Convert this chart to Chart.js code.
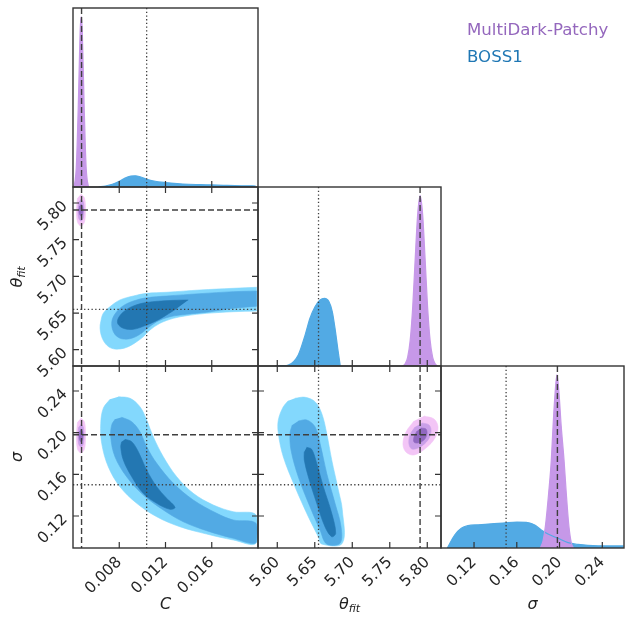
<!DOCTYPE html>
<html>
<head>
<meta charset="utf-8">
<title>Corner plot</title>
<script src="https://cdn.jsdelivr.net/npm/chart.js@4.4.1/dist/chart.umd.min.js"></script>
<style>
  body { margin: 0; background: #fff; }
  #fig { position: relative; width: 625px; height: 620px; overflow: hidden; }
  #fig canvas { position: absolute; left: 0; top: 0; }
  .ttl { position: absolute; width: 100px; height: 22px; line-height: 22px; text-align: center;
         font-family: "DejaVu Sans", sans-serif; font-style: italic; font-size: 16px; color: #222; }
  .ttl sub { font-size: 11px; vertical-align: -3px; }
  .rot { transform: rotate(-90deg); }
  #legend { position: absolute; left: 467px; top: 17px; font-family: "DejaVu Sans", sans-serif;
            font-size: 16.6px; line-height: 26.7px; }
</style>
</head>
<body>
<div id="fig">
  <canvas id="p00" width="625" height="620"></canvas>
  <canvas id="p10" width="625" height="620"></canvas>
  <canvas id="p11" width="625" height="620"></canvas>
  <canvas id="p20" width="625" height="620"></canvas>
  <canvas id="p21" width="625" height="620"></canvas>
  <canvas id="p22" width="625" height="620"></canvas>

  <div class="ttl" style="left:115.5px; top:593px;">C</div>
  <div class="ttl" style="left:299.5px; top:593px;">θ<sub>fit</sub></div>
  <div class="ttl" style="left:482.5px; top:593px;">σ</div>
  <div class="ttl rot" style="left:-33px; top:265.5px;">θ<sub>fit</sub></div>
  <div class="ttl rot" style="left:-33px; top:446px;">σ</div>

  <div id="legend">
    <div style="color:#9467bd">MultiDark-Patchy</div>
    <div style="color:#1f77b4">BOSS1</div>
  </div>
</div>

<script>
// ---------- data ----------

// parameters: 0 = C, 1 = theta_fit, 2 = sigma
const cTicks = [0.008, 0.012, 0.016];
const cTickLabels = ['0.008', '0.012', '0.016'];
const thetaTicks = [5.60, 5.65, 5.70, 5.75, 5.80];
const thetaTickLabels = ['5.60', '5.65', '5.70', '5.75', '5.80'];
const sigmaTicks = [0.12, 0.16, 0.20, 0.24];
const sigmaTickLabels = ['0.12', '0.16', '0.20', '0.24'];

// reference values (dashed = Patchy, dotted = BOSS1)
const truthPatchy = [0.00474, 5.7904, 0.198];
const truthBoss = [0.01037, 5.655, 0.150];

// 1D marginals
const cGridBoss = [0.0062, 0.0068, 0.0074, 0.0080, 0.0085, 0.0090, 0.0094, 0.0098, 0.0104, 0.0110, 0.0120, 0.0130, 0.0140, 0.0150, 0.0160, 0.0170, 0.0180, 0.0190, 0.0198];
const cDensBoss = [0, 0.006, 0.016, 0.033, 0.052, 0.064, 0.066, 0.060, 0.045, 0.035, 0.026, 0.020, 0.016, 0.014, 0.012, 0.010, 0.008, 0.007, 0.006];
const cGridPatchy = [0.00405, 0.00419, 0.00428, 0.00436, 0.00445, 0.00454, 0.00462, 0.00471, 0.00480, 0.00488, 0.00497, 0.00506, 0.00514, 0.00523, 0.00535];
const cDensPatchy = [0, 0.04, 0.11, 0.25, 0.46, 0.71, 0.92, 1.0, 0.92, 0.71, 0.46, 0.25, 0.11, 0.04, 0];

const thetaGridBoss = [5.5970, 5.6070, 5.6147, 5.6280, 5.6370, 5.6436, 5.6503, 5.6570, 5.6627, 5.6690, 5.6734, 5.6770, 5.6806, 5.6840];
const thetaDensBoss = [0, 0.002, 0.006, 0.065, 0.18, 0.28, 0.348, 0.387, 0.397, 0.377, 0.318, 0.221, 0.104, 0];
const thetaGridPatchy = [5.7670, 5.7705, 5.7738, 5.7772, 5.7805, 5.7838, 5.7872, 5.7905, 5.7938, 5.7972, 5.8005, 5.8038, 5.8072, 5.8105, 5.8140];
const thetaDensPatchy = [0, 0.013, 0.05, 0.15, 0.34, 0.62, 0.89, 1.0, 0.89, 0.62, 0.34, 0.15, 0.05, 0.013, 0];

const sigmaGridBoss = [0.0950, 0.1019, 0.1081, 0.1144, 0.1240, 0.1331, 0.1470, 0.1602, 0.1689, 0.1768, 0.1829, 0.1892, 0.1985, 0.2079, 0.2173, 0.2360, 0.2600];
const sigmaDensBoss = [0, 0.075, 0.114, 0.129, 0.134, 0.138, 0.144, 0.150, 0.148, 0.133, 0.104, 0.081, 0.056, 0.031, 0.021, 0.013, 0.012];
const sigmaGridPatchy = [0.1820, 0.1845, 0.1867, 0.1898, 0.1923, 0.1939, 0.1958, 0.1976, 0.1995, 0.2016, 0.2042, 0.2063, 0.2088, 0.2110, 0.2130];
const sigmaDensPatchy = [0, 0.04, 0.123, 0.316, 0.508, 0.70, 0.893, 1.0, 0.893, 0.70, 0.508, 0.316, 0.123, 0.03, 0];

// 2D contours, outer / mid / inner levels, [x, y] pairs
const bossCThetaOuter = [[0.01989,5.6851],[0.01786,5.6837],[0.01498,5.6814],[0.01210,5.6783],[0.01037,5.6769],[0.00922,5.6732],[0.00806,5.6678],[0.00720,5.6586],[0.00662,5.6496],[0.00640,5.6382],[0.00634,5.6292],[0.00648,5.6177],[0.00685,5.6074],[0.00735,5.6019],[0.00806,5.6010],[0.00878,5.6041],[0.00951,5.6109],[0.01008,5.6177],[0.01066,5.6269],[0.01152,5.6360],[0.01268,5.6428],[0.01383,5.6464],[0.01556,5.6496],[0.01786,5.6518],[0.01989,5.6528]];
const bossCThetaMid = [[0.01989,5.6800],[0.01786,5.6791],[0.01498,5.6764],[0.01210,5.6732],[0.01037,5.6709],[0.00922,5.6664],[0.00835,5.6600],[0.00778,5.6518],[0.00743,5.6428],[0.00735,5.6337],[0.00749,5.6246],[0.00783,5.6177],[0.00835,5.6146],[0.00908,5.6156],[0.00979,5.6210],[0.01037,5.6282],[0.01124,5.6382],[0.01239,5.6450],[0.01383,5.6483],[0.01556,5.6510],[0.01786,5.6565],[0.01989,5.6593]];
const bossCThetaInner = [[0.01397,5.6678],[0.01239,5.6671],[0.01037,5.6644],[0.00922,5.6596],[0.00835,5.6514],[0.00789,5.6419],[0.00789,5.6350],[0.00835,5.6292],[0.00922,5.6278],[0.01037,5.6337],[0.01152,5.6419],[0.01297,5.6562]];

const bossCSigmaOuter = [[0.00792,0.2345],[0.00893,0.2330],[0.00979,0.2249],[0.01037,0.2122],[0.01094,0.1961],[0.01181,0.1769],[0.01297,0.1577],[0.01440,0.1418],[0.01613,0.1306],[0.01786,0.1241],[0.01983,0.1210],[0.01983,0.0938],[0.01786,0.0970],[0.01556,0.1027],[0.01325,0.1097],[0.01124,0.1193],[0.00951,0.1322],[0.00806,0.1481],[0.00705,0.1673],[0.00648,0.1898],[0.00640,0.2090],[0.00662,0.2234],[0.00720,0.2320]];
const bossCSigmaMid = [[0.00821,0.2148],[0.00908,0.2105],[0.00979,0.2009],[0.01037,0.1865],[0.01124,0.1706],[0.01268,0.1514],[0.01440,0.1354],[0.01643,0.1226],[0.01786,0.1162],[0.01983,0.1130],[0.01983,0.0944],[0.01786,0.0986],[0.01556,0.1059],[0.01354,0.1145],[0.01181,0.1258],[0.01008,0.1402],[0.00864,0.1577],[0.00763,0.1769],[0.00726,0.1961],[0.00735,0.2074],[0.00763,0.2128]];
const bossCSigmaInner = [[0.00850,0.1936],[0.00908,0.1913],[0.00965,0.1817],[0.01037,0.1642],[0.01124,0.1481],[0.01210,0.1370],[0.01282,0.1284],[0.01239,0.1264],[0.01124,0.1322],[0.01008,0.1418],[0.00908,0.1577],[0.00835,0.1738],[0.00813,0.1865],[0.00821,0.1913]];

const bossThetaSigmaOuter = [[5.6236,0.2330],[5.6370,0.2340],[5.6503,0.2297],[5.6592,0.2186],[5.6659,0.1994],[5.6726,0.1738],[5.6814,0.1450],[5.6867,0.1258],[5.6867,0.0938],[5.6592,0.0931],[5.6547,0.1001],[5.6414,0.1193],[5.6236,0.1481],[5.6080,0.1769],[5.6014,0.1994],[5.6014,0.2122],[5.6080,0.2249],[5.6147,0.2307]];
const bossThetaSigmaMid = [[5.6280,0.2112],[5.6392,0.2122],[5.6503,0.2057],[5.6570,0.1898],[5.6659,0.1610],[5.6770,0.1322],[5.6850,0.1097],[5.6836,0.0938],[5.6659,0.0931],[5.6570,0.1066],[5.6436,0.1289],[5.6280,0.1577],[5.6183,0.1834],[5.6170,0.1994],[5.6200,0.2074]];
const bossThetaSigmaInner = [[5.6392,0.1860],[5.6459,0.1840],[5.6526,0.1706],[5.6614,0.1481],[5.6726,0.1226],[5.6779,0.1034],[5.6726,0.1001],[5.6636,0.1097],[5.6526,0.1322],[5.6414,0.1577],[5.6360,0.1738],[5.6360,0.1817]];

const patchyCThetaOuter = [[0.00469,5.8123],[0.00499,5.8068],[0.00508,5.7904],[0.00499,5.7741],[0.00469,5.7686],[0.00439,5.7741],[0.00430,5.7904],[0.00439,5.8068]];
const patchyCThetaMid = [[0.00469,5.8054],[0.00489,5.8014],[0.00495,5.7904],[0.00489,5.7795],[0.00469,5.7755],[0.00449,5.7795],[0.00443,5.7904],[0.00449,5.8014]];
const patchyCThetaInner = [[0.00469,5.7986],[0.00482,5.7959],[0.00486,5.7904],[0.00482,5.7850],[0.00469,5.7823],[0.00456,5.7850],[0.00452,5.7904],[0.00456,5.7959]];

const patchyCSigmaOuter = [[0.00469,0.2141],[0.00499,0.2102],[0.00508,0.1973],[0.00499,0.1843],[0.00469,0.1805],[0.00439,0.1843],[0.00430,0.1973],[0.00439,0.2102]];
const patchyCSigmaMid = [[0.00469,0.2083],[0.00489,0.2054],[0.00495,0.1973],[0.00489,0.1891],[0.00469,0.1862],[0.00449,0.1891],[0.00443,0.1973],[0.00449,0.2054]];
const patchyCSigmaInner = [[0.00469,0.2035],[0.00482,0.2011],[0.00486,0.1973],[0.00482,0.1934],[0.00469,0.1910],[0.00456,0.1934],[0.00452,0.1973],[0.00456,0.2011]];

const patchyThetaSigmaOuter = [[5.7956,0.2160],[5.8090,0.2131],[5.8143,0.2054],[5.8103,0.1949],[5.7983,0.1853],[5.7823,0.1786],[5.7716,0.1814],[5.7676,0.1891],[5.7716,0.2006],[5.7823,0.2112]];
const patchyThetaSigmaMid = [[5.7930,0.2093],[5.8023,0.2074],[5.8050,0.2016],[5.8010,0.1930],[5.7903,0.1862],[5.7796,0.1843],[5.7756,0.1891],[5.7770,0.1978],[5.7836,0.2054]];
const patchyThetaSigmaInner = [[5.7916,0.2045],[5.7983,0.2035],[5.7996,0.1987],[5.7956,0.1930],[5.7876,0.1901],[5.7823,0.1910],[5.7823,0.1958],[5.7863,0.2016]];

// ---------- layout ----------

const colEdges = [73, 258, 441, 624];
const rowEdges = [8, 187, 366, 548];
const xRanges = [[0.004, 0.020], [5.5743, 5.8183], [0.0891, 0.2603]];
const yRanges = [null, [5.5778, 5.8218], [0.0893, 0.2640]];
const densityTop = 1.05;

const tickValues = [cTicks, thetaTicks, sigmaTicks];
const tickLabels = [cTickLabels, thetaTickLabels, sigmaTickLabels];

const BLUE = ['#83d8fd', '#52aae4', '#2377b2'];
const PURPLE = ['#f3c5f6', '#c99fe8', '#9068c0'];
const BLUE_1D = '#52aae4';
const PURPLE_1D = '#c698e8';

// ---------- helpers ----------

function pts(xs, ys) {
  return xs.map((x, i) => ({ x: x, y: ys[i] }));
}

function density(xs, ys, color) {
  return {
    data: pts(xs, ys), showLine: true, fill: 'origin',
    backgroundColor: color, borderColor: color, borderWidth: 1.2,
    pointRadius: 0, cubicInterpolationMode: 'monotone'
  };
}

function contour(pairs, color) {
  return {
    data: pairs.map(p => ({ x: p[0], y: p[1] })), showLine: true, fill: 'shape',
    backgroundColor: color, borderColor: color, borderWidth: 0.6,
    pointRadius: 0, tension: 0.35
  };
}

// truth lines, frame, inward ticks and rotated tick labels
const cornerDecor = {
  id: 'cornerDecor',
  afterDatasetsDraw(chart, args, o) {
    const ctx = chart.ctx;
    const a = chart.chartArea;
    const sx = chart.scales.x, sy = chart.scales.y;

    ctx.save();
    ctx.beginPath();
    ctx.rect(a.left, a.top, a.right - a.left, a.bottom - a.top);
    ctx.clip();
    ctx.strokeStyle = '#3f3f3f';
    const vline = (v, dash, w) => {
      const p = sx.getPixelForValue(v);
      ctx.setLineDash(dash); ctx.lineWidth = w;
      ctx.beginPath(); ctx.moveTo(p, a.top); ctx.lineTo(p, a.bottom); ctx.stroke();
    };
    const hline = (v, dash, w) => {
      const p = sy.getPixelForValue(v);
      ctx.setLineDash(dash); ctx.lineWidth = w;
      ctx.beginPath(); ctx.moveTo(a.left, p); ctx.lineTo(a.right, p); ctx.stroke();
    };
    vline(truthBoss[o.xi], [1.3, 2.4], 1.3);
    vline(truthPatchy[o.xi], [6, 3], 1.4);
    if (o.yi !== null) {
      hline(truthBoss[o.yi], [1.3, 2.4], 1.3);
      hline(truthPatchy[o.yi], [6, 3], 1.4);
    }
    ctx.restore();

    ctx.save();
    ctx.setLineDash([]);
    ctx.strokeStyle = '#333';
    ctx.lineWidth = 1.4;
    ctx.strokeRect(a.left, a.top, a.right - a.left, a.bottom - a.top);

    const T = 6;
    ctx.lineWidth = 1.2;
    ctx.beginPath();
    tickValues[o.xi].forEach(v => {
      const p = sx.getPixelForValue(v);
      ctx.moveTo(p, a.bottom); ctx.lineTo(p, a.bottom - T);
      if (o.yi !== null) { ctx.moveTo(p, a.top); ctx.lineTo(p, a.top + T); }
    });
    if (o.yi !== null) {
      tickValues[o.yi].forEach(v => {
        const p = sy.getPixelForValue(v);
        ctx.moveTo(a.left, p); ctx.lineTo(a.left + T, p);
        ctx.moveTo(a.right, p); ctx.lineTo(a.right - T, p);
      });
    }
    ctx.stroke();

    ctx.font = '15.5px "DejaVu Sans"';
    ctx.fillStyle = '#262626';
    ctx.textAlign = 'right';
    ctx.textBaseline = 'middle';
    if (o.xLabels) {
      tickValues[o.xi].forEach((v, i) => {
        const p = sx.getPixelForValue(v);
        ctx.save();
        ctx.translate(p, a.bottom + 12);
        ctx.rotate(-Math.PI / 4);
        ctx.fillText(tickLabels[o.xi][i], 0, 0);
        ctx.restore();
      });
    }
    if (o.yLabels) {
      tickValues[o.yi].forEach((v, i) => {
        const p = sy.getPixelForValue(v);
        ctx.save();
        ctx.translate(a.left - 8, p + 1);
        ctx.rotate(-Math.PI / 4);
        ctx.fillText(tickLabels[o.yi][i], 0, 0);
        ctx.restore();
      });
    }
    ctx.restore();
  }
};

function makePanel(id, row, col, datasets) {
  const yi = row === col ? null : row;
  return new Chart(document.getElementById(id), {
    type: 'scatter',
    data: { datasets: datasets },
    options: {
      responsive: false,
      animation: false,
      devicePixelRatio: 1,
      events: [],
      layout: {
        padding: {
          left: colEdges[col], right: 625 - colEdges[col + 1],
          top: rowEdges[row], bottom: 620 - rowEdges[row + 1]
        }
      },
      scales: {
        x: { type: 'linear', display: false, min: xRanges[col][0], max: xRanges[col][1] },
        y: {
          type: 'linear', display: false,
          min: yi === null ? 0 : yRanges[row][0],
          max: yi === null ? densityTop : yRanges[row][1]
        }
      },
      plugins: {
        legend: { display: false },
        tooltip: { enabled: false },
        filler: { drawTime: 'beforeDatasetsDraw' },
        cornerDecor: { xi: col, yi: yi, xLabels: row === 2, yLabels: col === 0 && row > 0 }
      }
    },
    plugins: [cornerDecor]
  });
}

// ---------- panels (first dataset is drawn on top) ----------

makePanel('p00', 0, 0, [
  density(cGridPatchy, cDensPatchy, PURPLE_1D),
  density(cGridBoss, cDensBoss, BLUE_1D)
]);

makePanel('p11', 1, 1, [
  density(thetaGridPatchy, thetaDensPatchy, PURPLE_1D),
  density(thetaGridBoss, thetaDensBoss, BLUE_1D)
]);

makePanel('p22', 2, 2, [
  density(sigmaGridPatchy, sigmaDensPatchy, PURPLE_1D),
  density(sigmaGridBoss, sigmaDensBoss, BLUE_1D)
]);

makePanel('p10', 1, 0, [
  contour(patchyCThetaInner, PURPLE[2]),
  contour(patchyCThetaMid, PURPLE[1]),
  contour(patchyCThetaOuter, PURPLE[0]),
  contour(bossCThetaInner, BLUE[2]),
  contour(bossCThetaMid, BLUE[1]),
  contour(bossCThetaOuter, BLUE[0])
]);

makePanel('p20', 2, 0, [
  contour(patchyCSigmaInner, PURPLE[2]),
  contour(patchyCSigmaMid, PURPLE[1]),
  contour(patchyCSigmaOuter, PURPLE[0]),
  contour(bossCSigmaInner, BLUE[2]),
  contour(bossCSigmaMid, BLUE[1]),
  contour(bossCSigmaOuter, BLUE[0])
]);

makePanel('p21', 2, 1, [
  contour(patchyThetaSigmaInner, PURPLE[2]),
  contour(patchyThetaSigmaMid, PURPLE[1]),
  contour(patchyThetaSigmaOuter, PURPLE[0]),
  contour(bossThetaSigmaInner, BLUE[2]),
  contour(bossThetaSigmaMid, BLUE[1]),
  contour(bossThetaSigmaOuter, BLUE[0])
]);
</script>
</body>
</html>
